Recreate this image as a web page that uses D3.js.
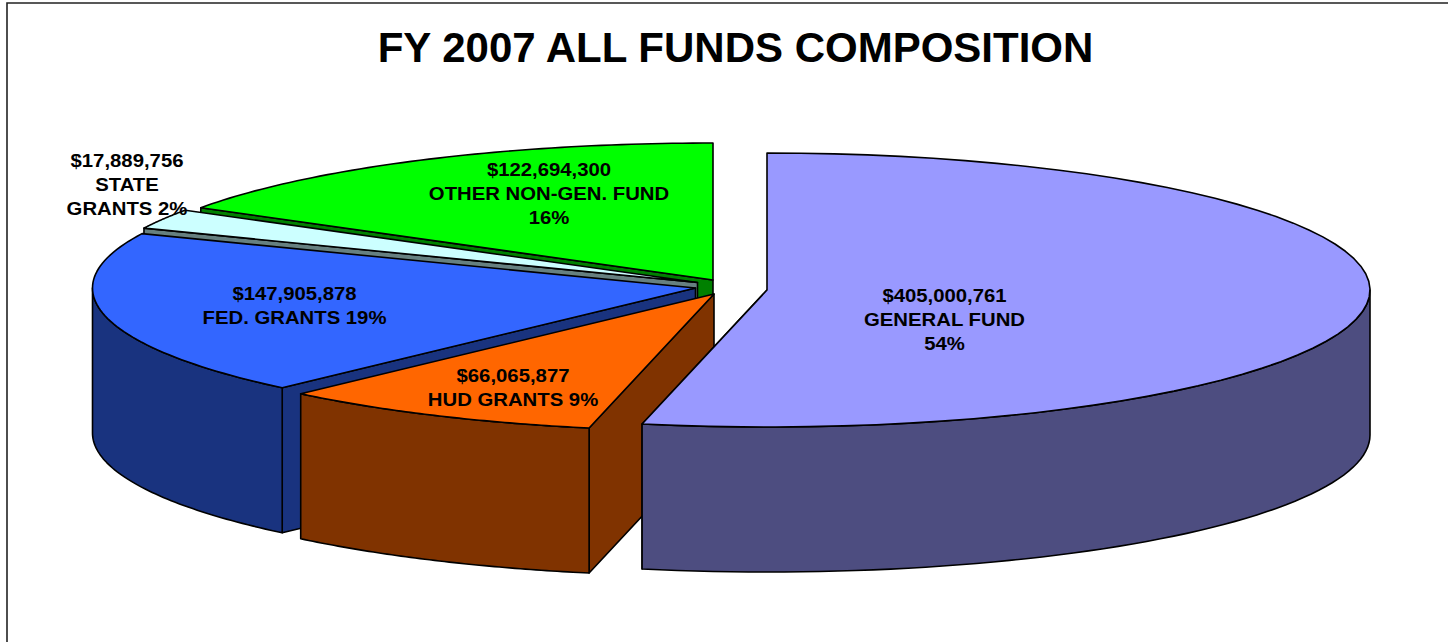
<!DOCTYPE html>
<html><head><meta charset="utf-8">
<script src="https://cdn.jsdelivr.net/npm/d3@7"></script>
<style>html,body{margin:0;padding:0;background:#fff}svg{display:block}</style>
</head><body><svg id="c" width="1448" height="642"></svg>
<script>
const title = "FY 2007 ALL FUNDS COMPOSITION";
const categories = ["GENERAL FUND","HUD GRANTS","FED. GRANTS","STATE GRANTS","OTHER NON-GEN. FUND"];
const amounts = [405000761,66065877,147905878,17889756,122694300];
const labelLines = [
  ["$405,000,761","GENERAL FUND","54%"],
  ["$66,065,877","HUD GRANTS 9%"],
  ["$147,905,878","FED. GRANTS 19%"],
  ["$17,889,756","STATE","GRANTS 2%"],
  ["$122,694,300","OTHER NON-GEN. FUND","16%"]
];
const topColors = ["#9999ff","#ff6600","#3366ff","#ccffff","#00ff00"];
const sideColors = ["#4d4d80","#803300","#19337f","#668080","#008000"];
// layout: apex of every exploded slice, and label anchors
const apexes = [[767,290],[714,294],[695.5,288],[697.5,282.5],[713,280]];
const labelAt = [[944.5,302],[513,382],[294.5,300],[127,167],[549,176]];
const RX=603, RY=137, DEPTH=145;

const svg=d3.select("#c");
svg.append("path").attr("d","M7,642V3H1448").attr("fill","none").attr("stroke","#222").attr("stroke-width",1.6);
svg.append("text").attr("x",735.5).attr("y",62).attr("text-anchor","middle")
  .attr("font-family","Liberation Sans").attr("font-weight","bold").attr("font-size",42).text(title);

const pie=d3.pie().sort(null).value(d=>d);
const arcs=pie(amounts);
const px=(a,i,r=RX)=>apexes[i][0]+r*Math.sin(a);
const py=(a,i,r=RY)=>apexes[i][1]-r*Math.cos(a);
const ticks=(a0,a1)=>d3.range(0,61).map(k=>d3.interpolateNumber(a0,a1)(k/60));
const line=d3.line();
function topPath(d,i){
  return line([apexes[i],...ticks(d.startAngle,d.endAngle).map(a=>[px(a,i),py(a,i)])])+"Z";
}
// outer rim: only the part facing the viewer (angles in 90..270 degrees)
function rimPath(d,i){
  const a0=Math.max(d.startAngle,Math.PI/2),a1=Math.min(d.endAngle,3*Math.PI/2);
  if(a1<=a0) return null;
  const t=ticks(a0,a1).map(a=>[px(a,i),py(a,i)]);
  return line([...t,...t.slice().reverse().map(p=>[p[0],p[1]+DEPTH])])+"Z";
}
function wallPath(i,a){
  const [x,y]=apexes[i],ex=px(a,i),ey=py(a,i);
  return line([[x,y],[ex,ey],[ex,ey+DEPTH],[x,y+DEPTH]])+"Z";
}
const style=(s,fill)=>s.attr("fill",fill).attr("stroke","#000").attr("stroke-width",1.6).attr("stroke-linejoin","round");
// back to front; each slice shows its clockwise-start cut face, except the front one
[4,3,2,1,0].forEach(i=>{
  const d=arcs[i],g=svg.append("g");
  const wallAngle=i===0?d.endAngle:d.startAngle;
  style(g.append("path").attr("d",wallPath(i,wallAngle)),sideColors[i]);
  const r=rimPath(d,i);
  if(r) style(g.append("path").attr("d",r),sideColors[i]);
  style(g.append("path").attr("d",topPath(d,i)),topColors[i]);
});
labelLines.forEach((ls,i)=>{
  const t=svg.append("text").attr("text-anchor","middle").attr("font-family","Liberation Sans")
    .attr("font-weight","bold").attr("font-size",19).attr("fill","#000")
    .attr("transform",`translate(${labelAt[i][0]},${labelAt[i][1]}) scale(1.07,1)`);
  ls.forEach((s,k)=>t.append("tspan").attr("x",0).attr("y",k*24).text(s));
});
</script></body></html>
